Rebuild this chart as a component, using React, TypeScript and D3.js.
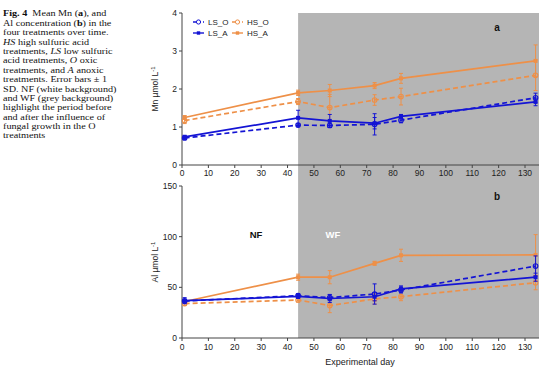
import React from "react";
import * as d3 from "d3";

const days = [1, 44, 56, 73, 83, 134];
const xTicks = [0, 10, 20, 30, 40, 50, 60, 70, 80, 90, 100, 110, 120, 130];

// Mn (umol/L)
const mnLS_O = [0.71, 1.05, 1.04, 1.07, 1.18, 1.77];
const mnLS_A = [0.74, 1.24, 1.16, 1.10, 1.28, 1.66];
const mnHS_O = [1.17, 1.67, 1.51, 1.71, 1.80, 2.36];
const mnHS_A = [1.25, 1.90, 1.96, 2.09, 2.28, 2.74];
const mnLS_O_sd = [0.04, 0.04, 0.05, 0.28, 0.07, 0.12];
const mnLS_A_sd = [0.04, 0.2, 0.17, 0.15, 0.05, 0.1];
const mnHS_O_sd = [0.08, 0.08, 0.35, 0.14, 0.22, 0.4];
const mnHS_A_sd = [0.05, 0.07, 0.16, 0.08, 0.13, 0.42];
const mnTicks = [0, 1, 2, 3, 4];

// Al (umol/L)
const alLS_O = [36.5, 41.8, 39.8, 43.4, 47.4, 71];
const alLS_A = [36.8, 41, 39, 40.7, 48.4, 60];
const alHS_O = [34, 37.5, 32, 38.5, 40.8, 54.6];
const alHS_A = [36, 60, 60, 73.7, 81.6, 82];
const alLS_O_sd = [2, 2, 3, 10, 3, 10];
const alLS_A_sd = [3, 2, 4, 4, 3, 4];
const alHS_O_sd = [2, 2, 7, 5, 4, 7];
const alHS_A_sd = [2, 3, 6.5, 2, 6, 20];
const alTicks = [0, 50, 100, 150];

const captionLines: { t: string; s: "n" | "b" | "i" }[][] = [
  [{ t: "Fig. 4", s: "b" }, { t: "\u00a0\u00a0Mean Mn (", s: "n" }, { t: "a", s: "b" }, { t: "), and", s: "n" }],
  [{ t: "Al concentration (", s: "n" }, { t: "b", s: "b" }, { t: ") in the", s: "n" }],
  [{ t: "four treatments over time.", s: "n" }],
  [{ t: "HS", s: "i" }, { t: " high sulfuric acid", s: "n" }],
  [{ t: "treatments, ", s: "n" }, { t: "LS", s: "i" }, { t: " low sulfuric", s: "n" }],
  [{ t: "acid treatments, ", s: "n" }, { t: "O", s: "i" }, { t: " oxic", s: "n" }],
  [{ t: "treatments, and ", s: "n" }, { t: "A", s: "i" }, { t: " anoxic", s: "n" }],
  [{ t: "treatments. Error bars \u00b1 1", s: "n" }],
  [{ t: "SD. NF (white background)", s: "n" }],
  [{ t: "and WF (grey background)", s: "n" }],
  [{ t: "highlight the period before", s: "n" }],
  [{ t: "and after the influence of", s: "n" }],
  [{ t: "fungal growth in the O", s: "n" }],
  [{ t: "treatments", s: "n" }],
];

const BLUE = "#1414d4";
const ORANGE = "#ee9048";
const AXIS = "#444";
const FONT = "Liberation Sans, Arial, sans-serif";

const x = d3.scaleLinear().domain([0, 135.3]).range([182, 539]);
const yA = d3.scaleLinear().domain([0, 4]).range([165, 13]);
const yB = d3.scaleLinear().domain([0, 150]).range([338, 186]);

type S = { v: number[]; sd: number[]; color: string; dashed: boolean; open: boolean };

function Series({ s, y }: { s: S; y: d3.ScaleLinear<number, number> }) {
  const line = d3
    .line<number>()
    .x((_, i) => x(days[i]))
    .y((d) => y(d));
  return (
    <g>
      <path
        d={line(s.v) || ""}
        fill="none"
        stroke={s.color}
        strokeWidth={1.7}
        strokeDasharray={s.dashed ? "5,3" : undefined}
      />
      {s.v.map((v, i) => {
        const cx = x(days[i]);
        const top = y(v + s.sd[i]);
        const bot = y(v - s.sd[i]);
        return (
          <g key={i}>
            <line x1={cx} x2={cx} y1={top} y2={bot} stroke={s.color} strokeWidth={1} />
            <line x1={cx - 2} x2={cx + 2} y1={top} y2={top} stroke={s.color} strokeWidth={1} />
            <line x1={cx - 2} x2={cx + 2} y1={bot} y2={bot} stroke={s.color} strokeWidth={1} />
            {s.open ? (
              <circle cx={cx} cy={y(v)} r={2.3} fill="none" stroke={s.color} strokeWidth={1.1} />
            ) : (
              <rect x={cx - 2} y={y(v) - 2} width={4} height={4} fill={s.color} />
            )}
          </g>
        );
      })}
    </g>
  );
}

function Axes({ y, ticks, bottom, labelY }: { y: d3.ScaleLinear<number, number>; ticks: number[]; bottom: number; labelY: number }) {
  const top = y(ticks[ticks.length - 1]);
  return (
    <g fontFamily={FONT} fontSize={8.5} fill="#222">
      <line x1={182} x2={182} y1={top} y2={bottom} stroke={AXIS} strokeWidth={1} />
      {ticks.map((t) => (
        <g key={t}>
          <line x1={179} x2={182} y1={y(t)} y2={y(t)} stroke={AXIS} />
          <text x={177} y={y(t) + 3} textAnchor="end">{t}</text>
        </g>
      ))}
      <line x1={182} x2={539} y1={bottom} y2={bottom} stroke={AXIS} strokeWidth={1} />
      {xTicks.map((t) => (
        <g key={t}>
          <line x1={x(t)} x2={x(t)} y1={bottom} y2={bottom + 3} stroke={AXIS} />
          <text x={x(t)} y={labelY} textAnchor="middle">{t}</text>
        </g>
      ))}
    </g>
  );
}

function LegendItem({ x0, y0, color, dashed, open, label }: any) {
  return (
    <g>
      <line x1={x0} x2={x0 + 11} y1={y0} y2={y0} stroke={color} strokeWidth={1.4} strokeDasharray={dashed ? "3,2" : undefined} />
      {open ? (
        <circle cx={x0 + 5.5} cy={y0} r={2.1} fill="white" stroke={color} strokeWidth={1} />
      ) : (
        <rect x={x0 + 3.8} y={y0 - 1.7} width={3.4} height={3.4} fill={color} />
      )}
      <text x={x0 + 15} y={y0 + 3} fontFamily={FONT} fontSize={8} fill="#222">{label}</text>
    </g>
  );
}

export default function App() {
  const seriesA: S[] = [
    { v: mnHS_O, sd: mnHS_O_sd, color: ORANGE, dashed: true, open: true },
    { v: mnHS_A, sd: mnHS_A_sd, color: ORANGE, dashed: false, open: false },
    { v: mnLS_O, sd: mnLS_O_sd, color: BLUE, dashed: true, open: true },
    { v: mnLS_A, sd: mnLS_A_sd, color: BLUE, dashed: false, open: false },
  ];
  const seriesB: S[] = [
    { v: alHS_O, sd: alHS_O_sd, color: ORANGE, dashed: true, open: true },
    { v: alHS_A, sd: alHS_A_sd, color: ORANGE, dashed: false, open: false },
    { v: alLS_O, sd: alLS_O_sd, color: BLUE, dashed: true, open: true },
    { v: alLS_A, sd: alLS_A_sd, color: BLUE, dashed: false, open: false },
  ];
  return (
    <svg width={554} height={377} style={{ position: "absolute", left: 0, top: 0, background: "white" }}>
      <g transform="translate(3,0) scale(1.13,1)" fontFamily="Liberation Serif, Times New Roman, serif" fontSize={9} fill="#111">
        {captionLines.map((ln, i) => (
          <text key={i} x={0} y={16.5 + i * 9.38}>
            {ln.map((p, j) => (
              <tspan key={j} fontWeight={p.s === "b" ? "bold" : "normal"} fontStyle={p.s === "i" ? "italic" : "normal"}>
                {p.t}
              </tspan>
            ))}
          </text>
        ))}
      </g>
      <rect x={x(44)} y={13} width={539 - x(44)} height={338 - 13} fill="#b5b5b5" />
      <Axes y={yA} ticks={mnTicks} bottom={165} labelY={176} />
      <Axes y={yB} ticks={alTicks} bottom={338} labelY={350} />
      {seriesA.map((s, i) => <Series key={i} s={s} y={yA} />)}
      {seriesB.map((s, i) => <Series key={i} s={s} y={yB} />)}
      <LegendItem x0={193} y0={22} color={BLUE} dashed open label="LS_O" />
      <LegendItem x0={193} y0={33} color={BLUE} dashed={false} open={false} label="LS_A" />
      <LegendItem x0={232} y0={22} color={ORANGE} dashed open label="HS_O" />
      <LegendItem x0={232} y0={33} color={ORANGE} dashed={false} open={false} label="HS_A" />
      <g fontFamily={FONT} fontWeight="bold">
        <text x={497} y={31} fontSize={10} textAnchor="middle" fill="#111">a</text>
        <text x={497} y={200} fontSize={10} textAnchor="middle" fill="#111">b</text>
        <text x={256} y={238} fontSize={9.5} textAnchor="middle" fill="#111">NF</text>
        <text x={333} y={238} fontSize={9.5} textAnchor="middle" fill="#fff">WF</text>
      </g>
      <g fontFamily={FONT} fontSize={8.5} fill="#222">
        <text transform="translate(158,89) rotate(-90)" textAnchor="middle">
          Mn µmol L<tspan dy={-3} fontSize={6}>-1</tspan>
        </text>
        <text transform="translate(158,262) rotate(-90)" textAnchor="middle">
          Al µmol L<tspan dy={-3} fontSize={6}>-1</tspan>
        </text>
        <text x={360} y={365} fontSize={9} textAnchor="middle">Experimental day</text>
      </g>
    </svg>
  );
}
